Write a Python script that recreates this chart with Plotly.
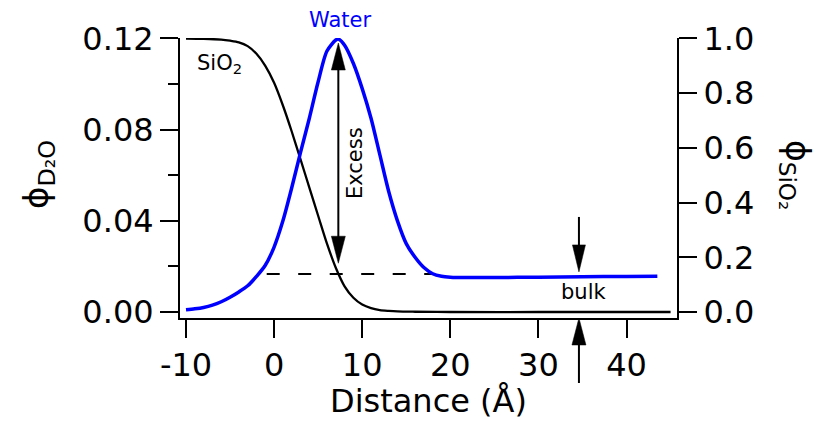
import plotly.graph_objects as go

# ---------------- data ----------------
distance_water = [-10, -9, -8, -7, -6, -5, -4, -3, -2, -1, 0, 1, 2, 3, 4, 5, 6, 7,
                  7.3, 8, 9, 10, 11, 12, 13, 14, 15, 16, 17, 18, 19, 20, 22, 25,
                  30, 35, 40, 43.5]
water = [0.0010, 0.0014, 0.0020, 0.0030, 0.0045, 0.0065, 0.0088, 0.0115, 0.0156,
         0.0205, 0.0285, 0.0400, 0.0545, 0.0700, 0.0850, 0.1010, 0.1145, 0.1193,
         0.1197, 0.1170, 0.1090, 0.0980, 0.0850, 0.0690, 0.0530, 0.0400, 0.0300,
         0.0240, 0.0195, 0.0168, 0.0157, 0.0153, 0.0151, 0.0151, 0.0153, 0.0155,
         0.0156, 0.0157]

distance_sio2 = [-10, -8, -6, -5, -4, -3, -2, -1, 0, 1, 2, 3, 4, 5, 6, 7, 8, 9,
                 10, 11, 12, 13, 14, 16, 20, 30, 45]
sio2 = [1.000, 0.999, 0.996, 0.992, 0.986, 0.972, 0.944, 0.900, 0.838, 0.755,
        0.660, 0.558, 0.455, 0.352, 0.250, 0.162, 0.094, 0.052, 0.027, 0.014,
        0.007, 0.004, 0.002, 0.001, 0.0, 0.0, 0.0]

bulk_x = [-0.84, 18.0]
bulk_y = [0.0167, 0.0167]

x_ticks = [-10, 0, 10, 20, 30, 40]
left_ticks = [0.00, 0.04, 0.08, 0.12]
left_tick_labels = ["0.00", "0.04", "0.08", "0.12"]
left_minor = [0.02, 0.06, 0.10]
right_ticks = [0.0, 0.2, 0.4, 0.6, 0.8, 1.0]
right_tick_labels = ["0.0", "0.2", "0.4", "0.6", "0.8", "1.0"]

# annotation anchor values (data units)
excess_x = 7.29
excess_top = 0.118
excess_bottom = 0.0214
bulk_arrow_x = 34.6
bulk_arrow_tail = 0.0417
bulk_arrow_tip = 0.0176

FONT = "DejaVu Sans"
W, H = 817, 421
L, R, T, B = 180, 140, 38, 103
PW, PH = W - L - R, H - T - B


def px(xpix):
    return (xpix - L) / PW


def py(ypix):
    return (H - B - ypix) / PH


fig = go.Figure()
fig.add_trace(go.Scatter(x=distance_sio2, y=sio2, yaxis="y", mode="lines",
                         line=dict(color="black", width=2.3, shape="spline", smoothing=0.8),
                         showlegend=False, hoverinfo="skip"))
fig.add_trace(go.Scatter(x=bulk_x, y=bulk_y, yaxis="y2", mode="lines",
                         line=dict(color="black", width=2, dash="13px,18.5px"),
                         showlegend=False, hoverinfo="skip"))
fig.add_trace(go.Scatter(x=distance_water, y=water, yaxis="y2", mode="lines",
                         line=dict(color="#0000ff", width=3.5, shape="spline", smoothing=0.8),
                         showlegend=False, hoverinfo="skip"))

axis_common = dict(showgrid=False, zeroline=False, showline=True, linecolor="black",
                   linewidth=2, ticks="outside", ticklen=18, tickwidth=2,
                   tickcolor="black", tickfont=dict(family=FONT, size=32, color="black"))

fig.update_layout(
    width=W, height=H,
    margin=dict(l=L, r=R, t=T, b=B, pad=0),
    paper_bgcolor="white", plot_bgcolor="white",
    showlegend=False,
    xaxis=dict(range=[-10.681, 45.73], tickvals=x_ticks, ticktext=[str(v) for v in x_ticks],
               **axis_common),
    yaxis=dict(range=[-0.0219, 1.0018], side="right", tickvals=right_ticks,
               ticktext=right_tick_labels, **axis_common),
    yaxis2=dict(range=[-0.00263, 0.1202], side="left", overlaying="y",
                tickvals=left_ticks, ticktext=left_tick_labels,
                minor=dict(tickvals=left_minor, ticks="outside", ticklen=10,
                           tickwidth=2, tickcolor="black"),
                **axis_common),
)

shapes = []
# Excess double arrow
shapes.append(dict(type="line", xref="x", yref="y2", x0=excess_x, x1=excess_x,
                   y0=excess_bottom + 0.0115, y1=excess_top - 0.0115,
                   line=dict(color="black", width=2)))
shapes.append(dict(type="path", xref="x", yref="y2", xsizemode="pixel", ysizemode="pixel",
                   xanchor=excess_x, yanchor=excess_top,
                   path="M0,0 L-7,-27 L7,-27 Z", fillcolor="black",
                   line=dict(color="black", width=0.5)))
shapes.append(dict(type="path", xref="x", yref="y2", xsizemode="pixel", ysizemode="pixel",
                   xanchor=excess_x, yanchor=excess_bottom,
                   path="M0,0 L-7,27 L7,27 Z", fillcolor="black",
                   line=dict(color="black", width=0.5)))
# bulk down arrow
shapes.append(dict(type="line", xref="x", yref="y2", x0=bulk_arrow_x, x1=bulk_arrow_x,
                   y0=bulk_arrow_tail, y1=bulk_arrow_tip + 0.0115,
                   line=dict(color="black", width=2)))
shapes.append(dict(type="path", xref="x", yref="y2", xsizemode="pixel", ysizemode="pixel",
                   xanchor=bulk_arrow_x, yanchor=bulk_arrow_tip,
                   path="M0,0 L-6.5,27 L6.5,27 Z", fillcolor="black",
                   line=dict(color="black", width=0.5)))
# up arrow below the axis
shapes.append(dict(type="line", xref="x", yref="paper", x0=bulk_arrow_x, x1=bulk_arrow_x,
                   y0=py(343), y1=py(383), line=dict(color="black", width=2)))
shapes.append(dict(type="path", xref="x", yref="paper", xsizemode="pixel", ysizemode="pixel",
                   xanchor=bulk_arrow_x, yanchor=py(318),
                   path="M0,0 L-7,-27 L7,-27 Z", fillcolor="black",
                   line=dict(color="black", width=0.5)))
fig.update_layout(shapes=shapes)

ann = []


def text(t, xpix, ypix, size, color="black", angle=0, xanchor="center"):
    ann.append(dict(text=t, x=px(xpix), y=py(ypix), xref="paper", yref="paper",
                    showarrow=False, textangle=angle, xanchor=xanchor, yanchor="middle",
                    font=dict(family=FONT, size=size, color=color)))


text("Water", 340, 20, 21, color="#0000ff")
text("SiO<sub>2</sub>", 195, 64, 21, xanchor="left")
text("Excess", 355, 163, 21, angle=-90)
text("bulk", 583, 292, 21)
text("Distance (Å)", 428.5, 401, 32)
text("ϕ<sub>D₂O</sub>", 38, 175, 34, angle=-90)
text("ϕ<sub>SiO₂</sub>", 796, 175, 33, angle=90)
fig.update_layout(annotations=ann)

fig.write_html("out.html", config={"displayModeBar": False},
               post_script="document.body.style.margin='0px';")
